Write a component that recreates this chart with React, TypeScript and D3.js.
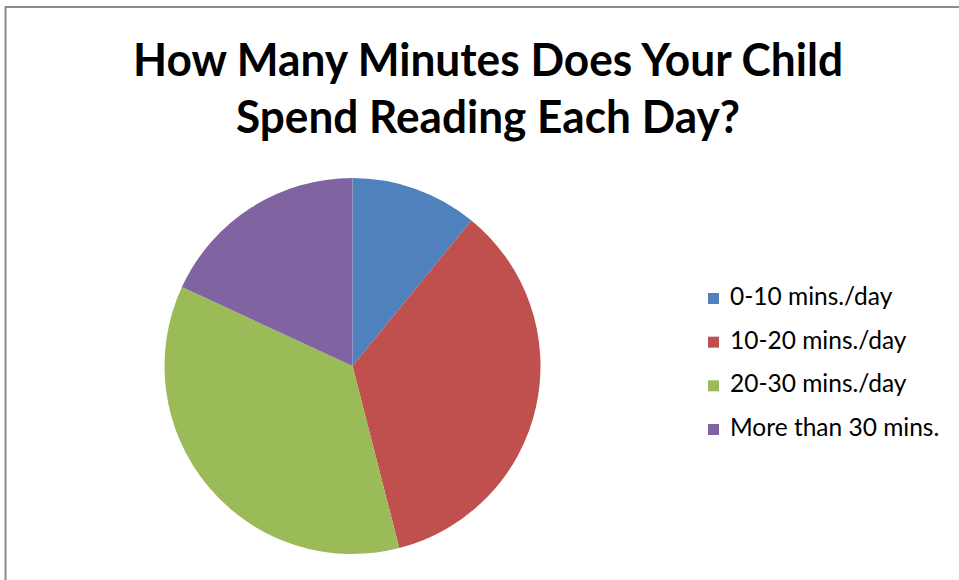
import React from "react";
import * as d3 from "d3";

const categories: string[] = ["0-10 mins./day", "10-20 mins./day", "20-30 mins./day", "More than 30 mins."];
const values: number[] = [10.9, 35.1, 35.9, 18.1];
const colors: string[] = ["#4F81BD", "#C0504D", "#9BBB59", "#8064A2"];
const titleLines: string[] = ["How Many Minutes Does Your Child", "Spend Reading Each Day?"];

const W = 959;
const H = 580;

export default function App() {
  const cx = 352.5;
  const cy = 366;
  const r = 188;
  const pie = d3.pie<number>().sort(null).value((d) => d)(values);
  const arc = d3.arc<d3.PieArcDatum<number>>().innerRadius(0).outerRadius(r);
  const font = "Lato, 'Open Sans', sans-serif";
  const legendY = d3.scalePoint<string>().domain(categories).range([305, 436]);
  return (
    <svg width={W} height={H} style={{ position: "fixed", left: 0, top: 0, background: "#fff" }}>
      <rect x={0} y={0} width={W} height={H} fill="#fff" />
      <line x1={5.5} y1={6} x2={5.5} y2={H} stroke="#8c8c8c" strokeWidth={2} />
      <line x1={5} y1={7} x2={W} y2={7} stroke="#8c8c8c" strokeWidth={2} />
      <g fontFamily={font} fontWeight="bold" fill="#000" textAnchor="middle">
        <text x={488} y={76} fontSize={46} textLength={710} lengthAdjust="spacingAndGlyphs">{titleLines[0]}</text>
        <text x={488} y={133} fontSize={46} textLength={504} lengthAdjust="spacingAndGlyphs">{titleLines[1]}</text>
      </g>
      <g transform={`translate(${cx},${cy})`}>
        {pie.map((p, i) => (
          <path key={i} d={arc(p) || ""} fill={colors[i]} />
        ))}
      </g>
      <g fontFamily={font} fontSize={24.5} fill="#000">
        {categories.map((c, i) => {
          const y = legendY(c) as number;
          return (
            <g key={c}>
              <rect x={708} y={y - 12} width={11} height={11} fill={colors[i]} />
              <text x={730} y={y}>{c}</text>
            </g>
          );
        })}
      </g>
    </svg>
  );
}
